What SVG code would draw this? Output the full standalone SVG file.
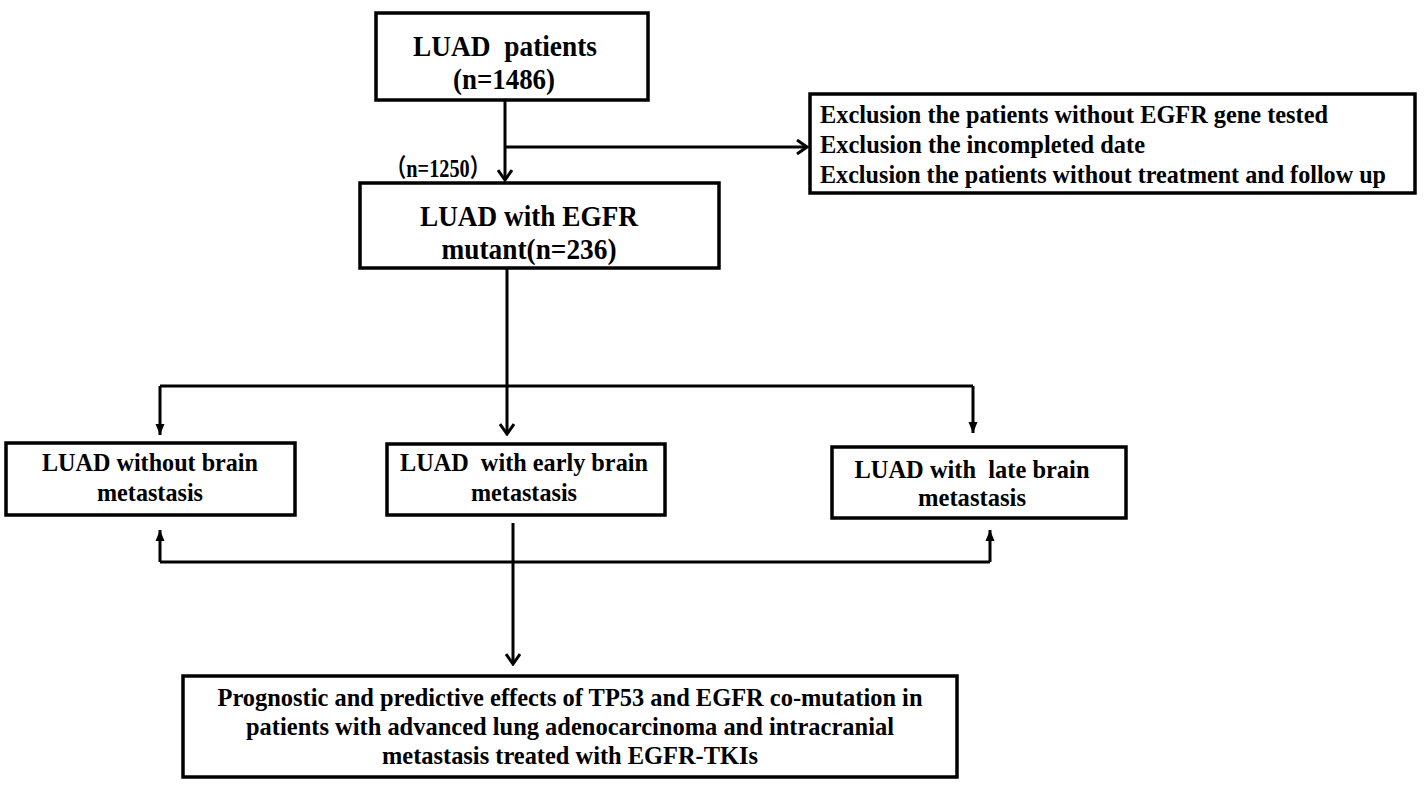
<svg xmlns="http://www.w3.org/2000/svg" width="1428" height="792" viewBox="0 0 1428 792">
<style>
.box{fill:#fff;stroke:#000;stroke-width:3.5}
.ln{fill:none;stroke:#000;stroke-width:3}
.t{font-family:"Liberation Serif","Times New Roman",serif;font-weight:bold;fill:#000}
.c{text-anchor:middle}
.big{font-size:29px}
.mid{font-size:26px}
</style>
<defs>
<marker id="chev" markerUnits="userSpaceOnUse" viewBox="-12 -8 14 16" refX="0" refY="0" markerWidth="14" markerHeight="16" orient="auto">
<path d="M-10,-7 L0,0 L-10,7" fill="none" stroke="#000" stroke-width="3"/>
</marker>
<marker id="tri" markerUnits="userSpaceOnUse" viewBox="-12 -6 13 12" refX="0" refY="0" markerWidth="13" markerHeight="12" orient="auto">
<path d="M-11,-4.5 L0,0 L-11,4.5 Z" fill="#000"/>
</marker>
</defs>
<rect width="1428" height="792" fill="#fff"/>
<g id="connectors">
<path class="ln" d="M505,100 V180" marker-end="url(#chev)"/>
<path class="ln" d="M505,147 H807" marker-end="url(#chev)"/>
<path class="ln" d="M507,268 V434" marker-end="url(#chev)"/>
<path class="ln" d="M160,386 H973"/>
<path class="ln" d="M160,386 V435" marker-end="url(#tri)"/>
<path class="ln" d="M973,386 V433" marker-end="url(#tri)"/>
<path class="ln" d="M513,523 V664" marker-end="url(#chev)"/>
<path class="ln" d="M160,562 H990"/>
<path class="ln" d="M160,562 V530" marker-end="url(#tri)"/>
<path class="ln" d="M990,562 V530" marker-end="url(#tri)"/>
</g>
<g id="n1250">
<text class="t" x="438" y="177" text-anchor="middle" font-size="25" textLength="104" lengthAdjust="spacingAndGlyphs" style="font-family:'Liberation Serif','Noto Sans CJK SC',serif">（n=1250）</text>
</g>
<g id="luad-patients">
<rect class="box" x="376" y="13" width="272" height="87"/>
<text class="t c big" x="505" y="56" xml:space="preserve" textLength="184" lengthAdjust="spacingAndGlyphs">LUAD  patients</text>
<text class="t c big" x="504" y="89" textLength="102" lengthAdjust="spacingAndGlyphs">(n=1486)</text>
</g>
<g id="exclusion">
<rect class="box" x="810" y="94" width="605" height="99"/>
<text class="t mid" x="820" y="123" textLength="508" lengthAdjust="spacingAndGlyphs">Exclusion the patients without EGFR gene tested</text>
<text class="t mid" x="820" y="153" textLength="325" lengthAdjust="spacingAndGlyphs">Exclusion the incompleted date</text>
<text class="t mid" x="820" y="183" textLength="566" lengthAdjust="spacingAndGlyphs">Exclusion the patients without treatment and follow up</text>
</g>
<g id="egfr-mutant">
<rect class="box" x="360" y="183" width="359" height="85"/>
<text class="t c big" x="529" y="226" textLength="218" lengthAdjust="spacingAndGlyphs">LUAD with EGFR</text>
<text class="t c big" x="529" y="259" textLength="175" lengthAdjust="spacingAndGlyphs">mutant(n=236)</text>
</g>
<g id="no-bm">
<rect class="box" x="6" y="443" width="289" height="72"/>
<text class="t c mid" x="150" y="471" textLength="216" lengthAdjust="spacingAndGlyphs">LUAD without brain</text>
<text class="t c mid" x="150" y="501" textLength="106" lengthAdjust="spacingAndGlyphs">metastasis</text>
</g>
<g id="early-bm">
<rect class="box" x="387" y="444" width="278" height="71"/>
<text class="t c mid" x="524" y="471" xml:space="preserve" textLength="248" lengthAdjust="spacingAndGlyphs">LUAD  with early brain</text>
<text class="t c mid" x="524" y="501" textLength="106" lengthAdjust="spacingAndGlyphs">metastasis</text>
</g>
<g id="late-bm">
<rect class="box" x="832" y="447" width="294" height="71"/>
<text class="t c mid" x="972" y="478" xml:space="preserve" textLength="235" lengthAdjust="spacingAndGlyphs">LUAD with  late brain</text>
<text class="t c mid" x="972" y="506" textLength="108" lengthAdjust="spacingAndGlyphs">metastasis</text>
</g>
<g id="outcome">
<rect class="box" x="183" y="676" width="774" height="101"/>
<text class="t c mid" x="570" y="706" textLength="705" lengthAdjust="spacingAndGlyphs">Prognostic and predictive effects of TP53 and EGFR co-mutation in</text>
<text class="t c mid" x="570" y="735" textLength="648" lengthAdjust="spacingAndGlyphs">patients with advanced lung adenocarcinoma and intracranial</text>
<text class="t c mid" x="570" y="764" textLength="376" lengthAdjust="spacingAndGlyphs">metastasis treated with EGFR-TKIs</text>
</g>
</svg>
